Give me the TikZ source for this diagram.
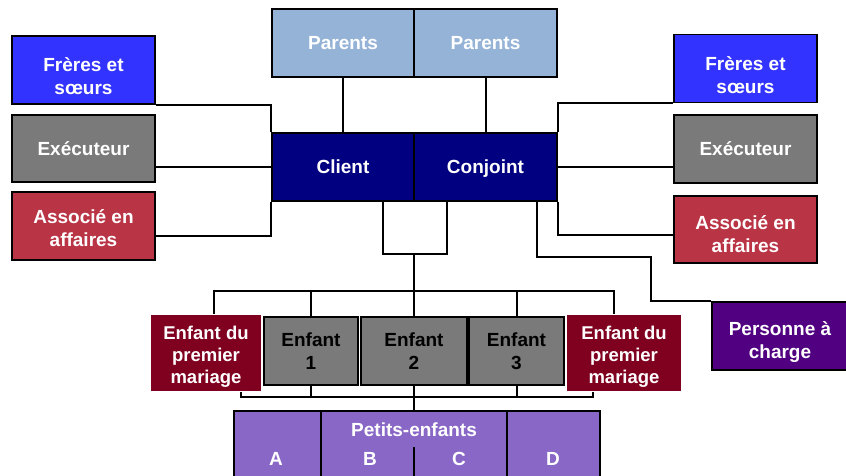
\documentclass[tikz,border=0pt]{standalone}
\usepackage{fontspec}
\setmainfont{Liberation Sans}
\usepackage{tikz}
\usetikzlibrary{positioning,calc}
\definecolor{parentblue}{RGB}{149,179,215}
\definecolor{coupleblue}{RGB}{0,0,128}
\definecolor{siblingblue}{RGB}{51,51,255}
\definecolor{execgray}{RGB}{122,122,122}
\definecolor{partnerred}{RGB}{185,52,69}
\definecolor{firstred}{RGB}{128,0,32}
\definecolor{dependpurple}{RGB}{80,0,128}
\definecolor{grandpurple}{RGB}{137,103,198}
\tikzset{
  box/.style={draw, line width=1.6pt, rectangle, inner sep=0pt, align=center,
    text=white, font=\bfseries\fontsize{19}{23}\selectfont},
  parentbox/.style={box, fill=parentblue, minimum width=142pt, minimum height=68pt},
  couplebox/.style={box, fill=coupleblue, minimum width=142pt, minimum height=68pt, text depth=0pt},
  sidebox/.style={box, minimum width=143pt, minimum height=68pt},
  childbox/.style={box, fill=execgray, text=black, minimum height=68pt},
  firstbox/.style={box, draw=none, fill=firstred, minimum height=76pt,
    text height=65.5pt, font=\bfseries\fontsize{18.5}{22}\selectfont},
  grandbox/.style={box, fill=grandpurple, minimum height=89pt},
  link/.style={line width=2pt},
}

\begin{document}
\begin{tikzpicture}[x=1pt, y=-1pt]
  \tikzset{
    lbl/.style={text=white, font=\bfseries\fontsize{19}{23}\selectfont, inner sep=0pt, anchor=base}
  }
  \useasboundingbox (0,0) rectangle (846,475);

  % parents and couple
  \node[parentbox] (parL) at (343,43) {Parents};
  \node[parentbox, minimum width=143pt] (parR) at (485.5,43) {Parents};
  \node[couplebox] (client) at (343,167) {Client};
  \node[couplebox, minimum width=143pt] (conj) at (485.5,167) {Conjoint};

  % left side
  \node[sidebox, fill=siblingblue, text height=50pt] (freL) at (83.5,70) {Frères et\\sœurs};
  \node[sidebox, fill=execgray, minimum height=67pt] (exeL) at (83.5,148.5) {Exécuteur};
  \node[sidebox, fill=partnerred, text height=41pt] (assL) at (83.5,226) {Associé en\\affaires};

  % right side
  \node[sidebox, fill=siblingblue, text height=50pt] (freR) at (745.5,68.5) {Frères et\\sœurs};
  \node[sidebox, fill=execgray] (exeR) at (745.5,149) {Exécuteur};
  \node[sidebox, fill=partnerred, minimum height=67pt, text height=47pt] (assR) at (745.5,229.5) {Associé en\\affaires};
  \node[box, fill=dependpurple, minimum width=136pt, minimum height=68pt,
    text height=50pt] (pers) at (780,336) {Personne à\\charge};

  % children
  \node[firstbox, minimum width=110pt] (edpL) at (206,353) {Enfant du\\premier\\mariage};
  \node[childbox, minimum width=94pt] (enf1) at (311,351) {Enfant\\1};
  \node[childbox, minimum width=106pt] (enf2) at (414,351) {Enfant\\2};
  \node[childbox, minimum width=95pt] (enf3) at (516.5,351) {Enfant\\3};
  \node[firstbox, minimum width=114pt] (edpR) at (624,353) {Enfant du\\premier\\mariage};

  % grandchildren
  \node[grandbox, minimum width=87pt] (gA) at (277.5,455.5) {};
  \node[grandbox, minimum width=186pt] (gBC) at (414,455.5) {};
  \node[grandbox, minimum width=93pt] (gD) at (553.5,455.5) {};
  \node[lbl] (petits) at (414,436) {Petits-enfants};
  \node[lbl] (lA) at (276,465) {A};
  \node[lbl] (lB) at (370,465) {B};
  \node[lbl] (lC) at (459,465) {C};
  \node[lbl] (lD) at (553,465) {D};
  \draw[line width=1.6pt] (gBC.south) -- ++(0,-54);

  % links
  \draw[link] (parL) -- (client);
  \draw[link] (parR) -- (conj);
  \draw[link] (freL.south east) -| (client.north west);
  \draw[link] (client.west) -- (client.west -| exeL.east);
  \draw[link] (client.south west) |- ([yshift=-10pt]assL.east);
  \draw[link] (conj.north east) |- (freR.south west);
  \draw[link] (conj.east) -- (conj.east -| exeR.west);
  \draw[link] (conj.south east) |- ([yshift=-5pt]assR.west);
  \draw[link] ([xshift=51.5pt]conj.south) -- ++(0,55) -| ([xshift=-60pt]pers.north west) -- (pers.north west);

  % couple to children
  \draw[link] ([xshift=40pt]client.south) -- ++(0,52) -| ([xshift=-38.5pt]conj.south);
  \coordinate (wed) at (414,253);
  \coordinate (bus) at (414,291);
  \draw[link] (wed) -- (bus);
  \draw[link] ([xshift=8pt]edpL.north) |- (bus) -| ([xshift=-10pt]edpR.north);
  \draw[link] (enf1.north) -- (enf1.north |- bus);
  \draw[link] (enf2.north) -- (bus);
  \draw[link] (enf3.north) -- (enf3.north |- bus);

  % children to grandchildren
  \coordinate (gbus) at (414,397);
  \draw[link] ([xshift=35pt]edpL.south) |- (gbus) -| ([xshift=-31pt]edpR.south);
  \draw[link] (enf1.south) -- (enf1.south |- gbus);
  \draw[link] (enf3.south) -- (enf3.south |- gbus);
  \draw[link] (enf2.south) -- (gBC.north);
\end{tikzpicture}
\end{document}
